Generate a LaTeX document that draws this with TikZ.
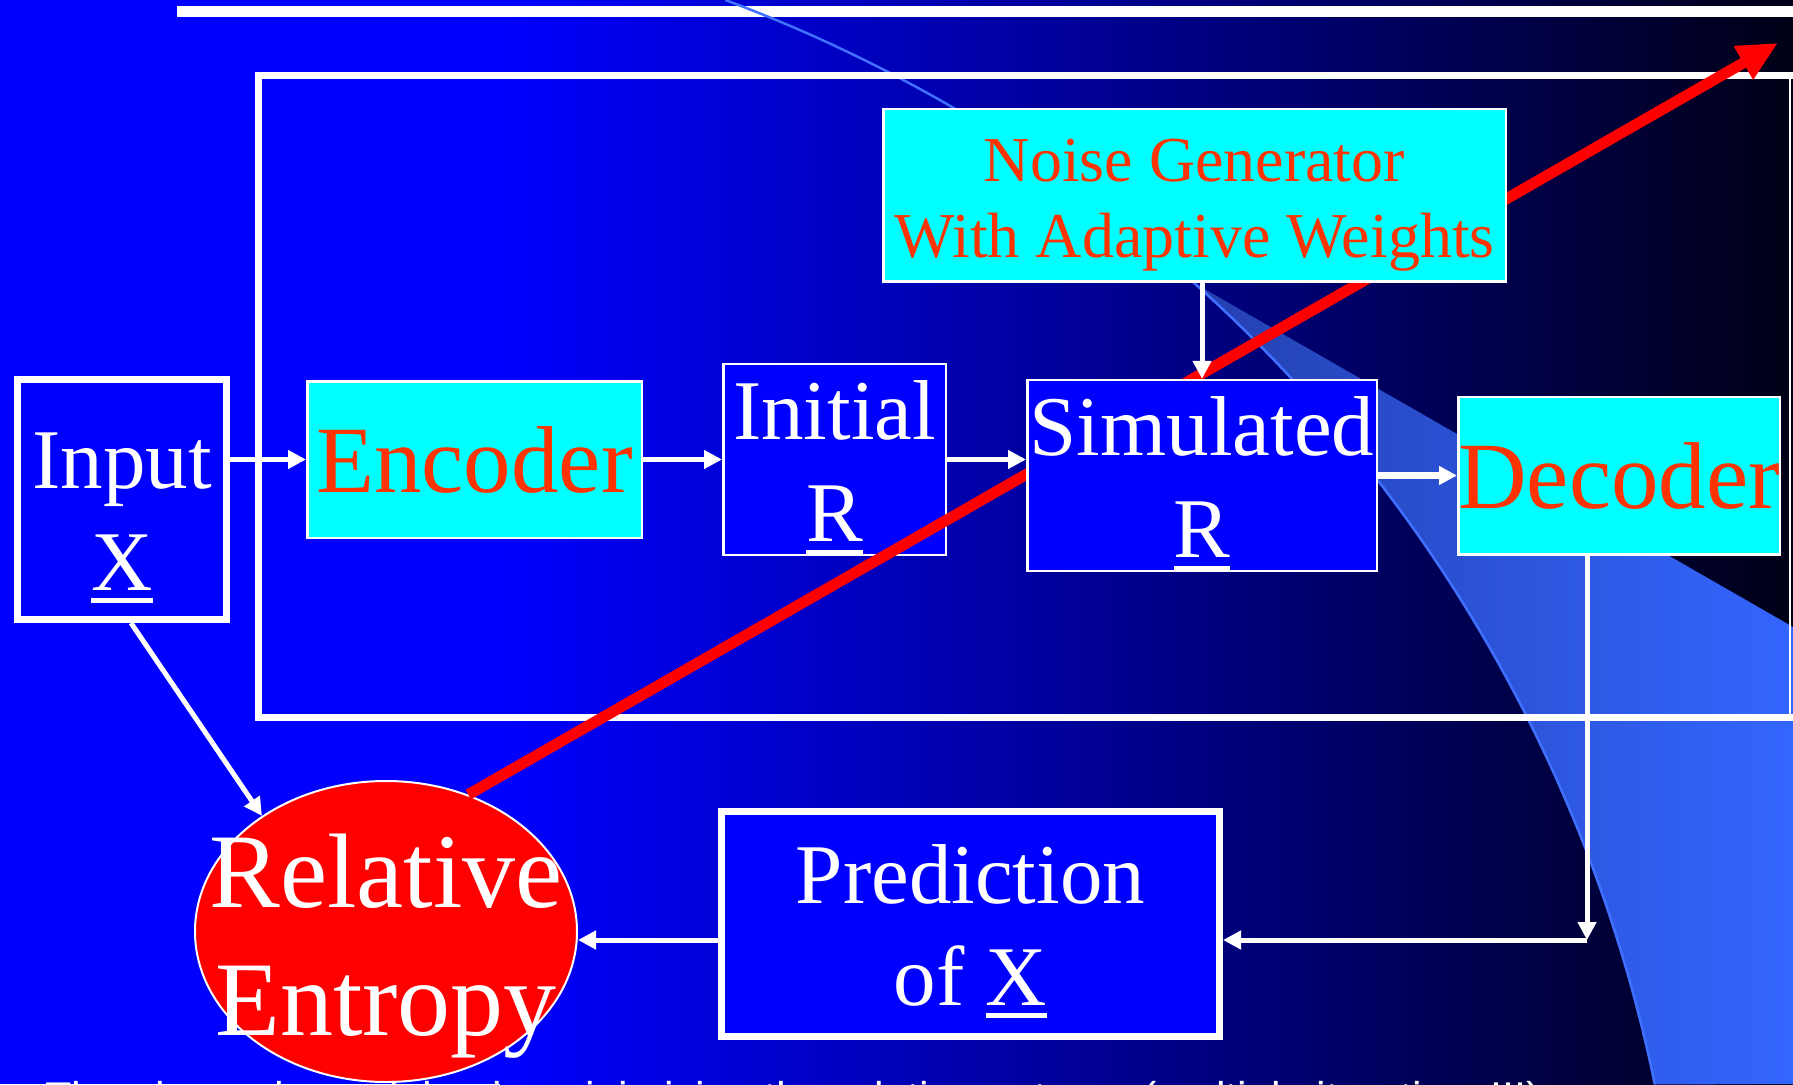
\documentclass[tikz,border=0pt]{standalone}
\usepackage{fontspec}
\setmainfont{Liberation Serif}
\setsansfont{Liberation Sans}
\usetikzlibrary{arrows.meta,positioning,shapes.geometric}
\definecolor{slideblue}{RGB}{0,0,255}
\definecolor{slidenavy}{RGB}{0,0,22}
\definecolor{boxcyan}{RGB}{0,255,255}
\definecolor{textred}{RGB}{255,51,0}
\definecolor{swooshlight}{RGB}{51,102,255}
\definecolor{swooshmid}{RGB}{46,90,232}
\definecolor{swooshdark}{RGB}{36,64,176}
\definecolor{swooshedge}{RGB}{64,112,255}
\newcommand{\vecul}[1]{\vtop{\hbox{#1}\kern0.095em\hrule height0.06em}}

\begin{document}
\begin{tikzpicture}[x=1pt, y=-1pt,
    node distance=79pt,
    box/.style={draw=white, line width=2.5pt, inner sep=0pt, align=center},
    cyanbox/.style={box, fill=boxcyan, text=textred, font=\fontsize{95}{114}\selectfont},
    bluebox/.style={box, fill=slideblue, text=white, font=\fontsize{85}{102}\selectfont},
    heavybox/.style={bluebox, line width=7pt},
    arr/.style={white, line width=5pt, -{Triangle[length=18pt,width=18pt]}},
    redarr/.style={red, line width=11pt, -{Triangle[length=40pt,width=36pt]}}
]
\useasboundingbox (0,0) rectangle (1793,1084);
\clip (0,0) rectangle (1793,1084);

% background and swoosh
\fill[slideblue] (0,0) rectangle (501,1084);
\shade[left color=slideblue, right color=slidenavy] (500,0) rectangle (1793,1084);
\shade[left color=swooshdark, middle color=swooshmid, right color=swooshlight]
  (1194,283) -- plot[domain=48.2:11.6, samples=50] ({212+1473*cos(\x)}, {1380.6-1473*sin(\x)})
  -- (1793,1084) -- (1793,627) -- cycle;
\fill[white] (177,6) rectangle (1793,17);
\draw[swooshedge, line width=2.5pt] plot[domain=69.6:11.6, samples=80] ({212+1473*cos(\x)}, {1380.6-1473*sin(\x)});

% frame
\draw[white, line width=7pt] (1793,75.5) -- (258,75.5) -- (258,717) -- (1793,717);
\draw[white, line width=1.5pt] (1790,75.5) -- (1790,717);

% blocks
\node[heavybox, minimum width=209pt, minimum height=240pt] (Input) at (122,499.5) {\rule{0pt}{92.6pt}Input\\\vecul{X}};
\node[cyanbox, minimum width=334.5pt, minimum height=156.5pt, right=76pt of Input, yshift=40pt] (Encoder) {Encoder};
\node[bluebox, minimum width=222.5pt, minimum height=190.5pt, right=of Encoder] (Initial) {\rule{0pt}{75.6pt}Initial\\\vecul{R}};
\node[ellipse, draw=white, line width=2pt, fill=red, inner sep=-80pt, minimum width=382pt, minimum height=301pt,
      text=white, align=center, font=\fontsize{106}{128}\selectfont] (RelEnt) at (386,931.5) {\rule{0pt}{102pt}Relative\\Entropy};

\coordinate (redtip) at (1778,43);
\draw[redarr] (RelEnt.59) -- (redtip);

\node[bluebox, minimum width=349.5pt, minimum height=189.5pt, right=of Initial, yshift=-16pt] (Simulated) {\rule{0pt}{75.6pt}Simulated\\\vecul{R}};
\node[cyanbox, minimum width=318.5pt, minimum height=157.5pt, right=of Simulated] (Decoder) {Decoder};
\node[cyanbox, font=\fontsize{64}{76}\selectfont, minimum width=622.5pt, minimum height=172.5pt, above=96pt of Simulated, xshift=-7.5pt] (Noise) {\rule{0pt}{62pt}Noise Generator\\With Adaptive Weights};
\node[heavybox, minimum width=498pt, minimum height=225pt] (Prediction) at (970.5,924) {\rule{0pt}{73.6pt}Prediction\\of \vecul{X}};

% connections
\coordinate (bend) at (1587,940);
\draw[arr] (Input.east |- Encoder.west) -- (Encoder.west);
\draw[arr] (Encoder) -- (Initial);
\draw[arr] (Initial.east) -- (Initial.east -| Simulated.west);
\draw[arr, line width=6.5pt] (Simulated) -- (Decoder);
\draw[arr] (Simulated.north |- Noise.south) -- (Simulated.north);
\draw[arr] (bend |- Decoder.south) -- (bend);
\draw[arr] (bend) -- (bend -| Prediction.east);
\draw[arr] (Prediction.west |- bend) -- (RelEnt.east |- bend);
\draw[arr] ([xshift=9pt]Input.south) -- (RelEnt.137);

% cut-off caption
\node[anchor=base west, inner sep=0pt, text=white, font=\sffamily\fontsize{43}{50}\selectfont] (caption) at (45,1112)
  {Then learn the weights by minimizing the relative entropy (multiple iterations!!!)};
\end{tikzpicture}
\end{document}
